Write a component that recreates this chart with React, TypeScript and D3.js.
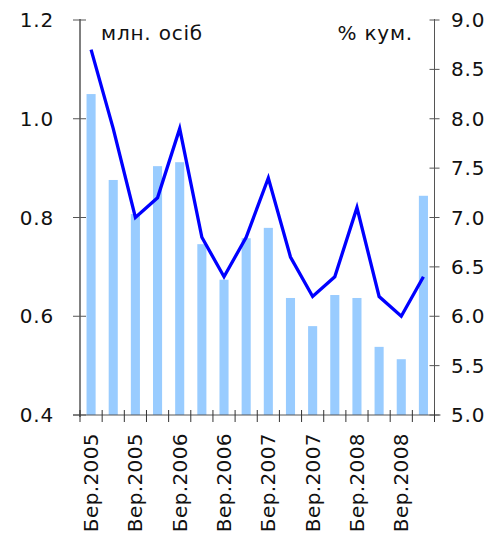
import React from "react";
import * as d3 from "d3";

const categories = [
  "Бер.2005", "Чер.2005", "Вер.2005", "Гру.2005",
  "Бер.2006", "Чер.2006", "Вер.2006", "Гру.2006",
  "Бер.2007", "Чер.2007", "Вер.2007", "Гру.2007",
  "Бер.2008", "Чер.2008", "Вер.2008", "Гру.2008",
];
const barValues = [1.05, 0.876, 0.807, 0.904, 0.912, 0.746, 0.674, 0.758, 0.779, 0.637, 0.58, 0.643, 0.637, 0.538, 0.513, 0.844];
const lineValues = [8.7, 7.9, 7.0, 7.2, 7.9, 6.8, 6.4, 6.8, 7.4, 6.6, 6.2, 6.4, 7.1, 6.2, 6.0, 6.4];
const leftTicks = [0.4, 0.6, 0.8, 1.0, 1.2];
const rightTicks = [5.0, 5.5, 6.0, 6.5, 7.0, 7.5, 8.0, 8.5, 9.0];
const leftUnit = "млн. осіб";
const rightUnit = "% кум.";

const W = 489;
const H = 539;
const L = 80;
const R = 434.5;
const T = 20;
const B = 415;
const FONT = "'DejaVu Sans', Verdana, sans-serif";
const FS = 20;
const LS = 0.8;

export default function App() {
  const x = d3.scaleBand<string>().domain(categories).range([L, R]).paddingInner(0.59).paddingOuter(0.295);
  const yL = d3.scaleLinear().domain([0.4, 1.2]).range([B, T]);
  const yR = d3.scaleLinear().domain([5, 9]).range([B, T]);
  const step = x.step();
  const center = (c: string) => (x(c) as number) + x.bandwidth() / 2;
  const line = d3
    .line<number>()
    .x((_, i) => center(categories[i]))
    .y((d) => yR(d));
  const boundaries = d3.range(categories.length + 1).map((i) => L + i * step);

  return (
    <svg
      width={W}
      height={H}
      style={{ position: "absolute", left: 0, top: 0, display: "block", background: "#fff" }}
      fontFamily={FONT}
    >
      {categories.map((c, i) => (
        <rect
          key={c}
          x={x(c) as number}
          y={yL(barValues[i])}
          width={x.bandwidth()}
          height={B - yL(barValues[i])}
          fill="#99ccff"
        />
      ))}
      <path d={line(lineValues) || ""} fill="none" stroke="#0000ff" strokeWidth={3.3} strokeLinejoin="miter" />

      {/* left axis */}
      <line x1={L} x2={L} y1={T - 1} y2={B + 2} stroke="#000" strokeWidth={1} />
      {leftTicks.map((t) => (
        <g key={t}>
          <line x1={L - 7} x2={L + 6} y1={yL(t)} y2={yL(t)} stroke="#555" strokeWidth={1} />
          <text x={54} y={yL(t)} dy="0.35em" textAnchor="end" fontSize={FS} letterSpacing={LS} fill="#111">
            {t.toFixed(1)}
          </text>
        </g>
      ))}

      {/* right axis */}
      <line x1={R} x2={R} y1={T - 1} y2={B + 1} stroke="#555" strokeWidth={1} />
      {rightTicks.map((t) => (
        <g key={t}>
          <line x1={R - 5} x2={R + 5} y1={yR(t)} y2={yR(t)} stroke="#555" strokeWidth={1} />
          <text x={451} y={yR(t)} dy="0.35em" textAnchor="start" fontSize={FS} letterSpacing={LS} fill="#111">
            {t.toFixed(1)}
          </text>
        </g>
      ))}

      {/* bottom axis */}
      <line x1={L - 7} x2={R + 6} y1={B} y2={B} stroke="#555" strokeWidth={1} />
      {boundaries.map((bx, i) => (
        <line key={i} x1={bx} x2={bx} y1={B - 5} y2={B + 7} stroke="#333" strokeWidth={1} />
      ))}
      {categories.map((c, i) =>
        i % 2 === 0 ? (
          <text
            key={c}
            transform={`translate(${center(c)},${433}) rotate(-90)`}
            dy="0.35em"
            textAnchor="end"
            fontSize={FS}
            letterSpacing={0.4}
            fill="#111"
          >
            {c}
          </text>
        ) : null
      )}

      <text x={101} y={40} fontSize={FS} letterSpacing={LS} fill="#111">{leftUnit}</text>
      <text x={413} y={40} textAnchor="end" fontSize={FS} letterSpacing={LS} fill="#111">{rightUnit}</text>
    </svg>
  );
}
